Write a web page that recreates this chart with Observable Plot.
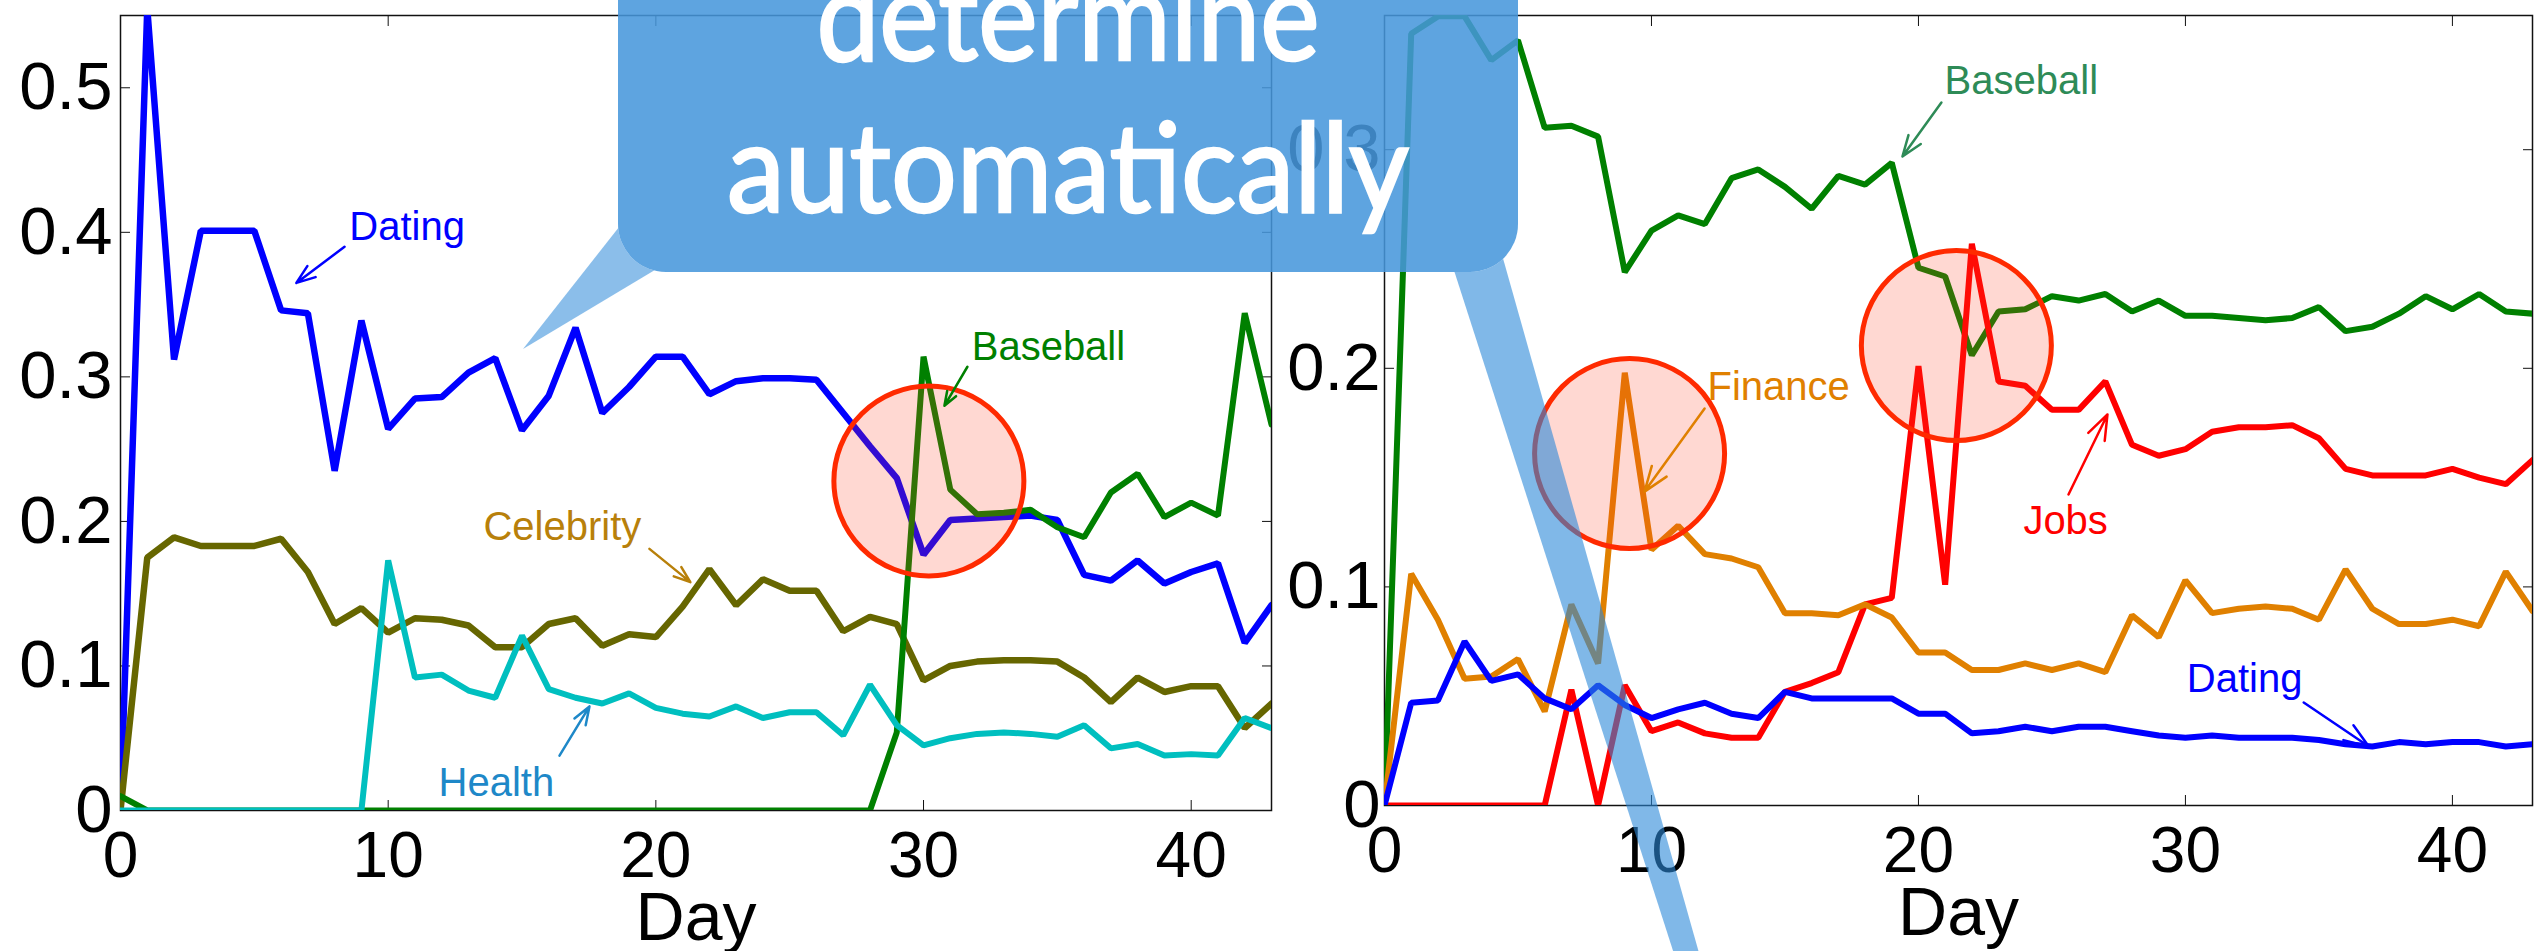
<!DOCTYPE html>
<html><head><meta charset="utf-8">
<script src="https://cdn.jsdelivr.net/npm/d3@7"></script>
<script src="https://cdn.jsdelivr.net/npm/@observablehq/plot@0.6"></script>
<style>
html,body{margin:0;padding:0;background:#fff;}
#wrap{position:relative;width:2546px;height:951px;overflow:hidden;}
#wrap svg{position:absolute;top:0;}
</style></head><body><div id="wrap"></div>
<script>
// ---------- data ----------
const days = [0,1,2,3,4,5,6,7,8,9,10,11,12,13,14,15,16,17,18,19,20,21,22,23,24,25,26,27,28,29,30,31,32,33,34,35,36,37,38,39,40,41,42,43];
const xTicks = [0,10,20,30,40];
const xLabels = ["0","10","20","30","40"];
const yTicksLeft = [0,0.1,0.2,0.3,0.4,0.5];
const yLabelsLeft = ["0","0.1","0.2","0.3","0.4","0.5"];
const yTicksRight = [0,0.1,0.2,0.3];
const yLabelsRight = ["0","0.1","0.2","0.3"];

const leftDating = [0,0.555,0.312,0.401,0.401,0.401,0.346,0.344,0.235,0.339,0.264,0.285,0.286,0.303,0.313,0.263,0.287,0.334,0.275,0.293,0.314,0.314,0.288,0.297,0.299,0.299,0.298,0.275,0.252,0.230,0.177,0.201,0.202,0.203,0.204,0.201,0.163,0.159,0.173,0.157,0.165,0.171,0.116,0.142];
const leftCelebrity = [0,0.175,0.189,0.183,0.183,0.183,0.188,0.165,0.129,0.140,0.123,0.133,0.132,0.128,0.113,0.113,0.129,0.133,0.114,0.122,0.120,0.141,0.167,0.142,0.160,0.152,0.152,0.124,0.134,0.129,0.090,0.100,0.103,0.104,0.104,0.103,0.092,0.075,0.092,0.082,0.086,0.086,0.057,0.074];
const leftBaseball = [0.01,0,0,0,0,0,0,0,0,0,0,0,0,0,0,0,0,0,0,0,0,0,0,0,0,0,0,0,0,0.054,0.314,0.222,0.205,0.206,0.208,0.196,0.189,0.220,0.233,0.203,0.213,0.204,0.344,0.267];
const leftHealth = [0,0,0,0,0,0,0,0,0,0,0.173,0.092,0.094,0.083,0.078,0.121,0.084,0.078,0.074,0.081,0.071,0.067,0.065,0.072,0.064,0.068,0.068,0.052,0.087,0.059,0.045,0.050,0.053,0.054,0.053,0.051,0.059,0.043,0.046,0.038,0.039,0.038,0.064,0.057];

const rightBaseball = [0,0.353,0.361,0.361,0.341,0.350,0.310,0.311,0.306,0.244,0.263,0.270,0.266,0.287,0.291,0.283,0.273,0.288,0.284,0.294,0.246,0.242,0.206,0.226,0.227,0.233,0.231,0.234,0.226,0.231,0.224,0.224,0.223,0.222,0.223,0.228,0.217,0.219,0.225,0.233,0.227,0.234,0.226,0.225];
const rightJobs = [0,0,0,0,0,0,0,0.053,0,0.055,0.034,0.038,0.033,0.031,0.031,0.052,0.056,0.061,0.092,0.095,0.201,0.101,0.257,0.194,0.192,0.181,0.181,0.194,0.165,0.160,0.163,0.171,0.173,0.173,0.174,0.168,0.154,0.151,0.151,0.151,0.154,0.150,0.147,0.158];
const rightFinance = [0,0.106,0.085,0.058,0.059,0.067,0.043,0.092,0.065,0.198,0.117,0.128,0.115,0.113,0.109,0.088,0.088,0.087,0.092,0.086,0.070,0.070,0.062,0.062,0.065,0.062,0.065,0.061,0.087,0.077,0.103,0.088,0.090,0.091,0.090,0.085,0.108,0.090,0.083,0.083,0.085,0.082,0.107,0.089];
const rightDating = [0,0.047,0.048,0.075,0.057,0.060,0.049,0.044,0.055,0.046,0.040,0.044,0.047,0.042,0.040,0.052,0.049,0.049,0.049,0.049,0.042,0.042,0.033,0.034,0.036,0.034,0.036,0.036,0.034,0.032,0.031,0.032,0.031,0.031,0.031,0.030,0.028,0.027,0.029,0.028,0.029,0.029,0.027,0.028];

// annotations (data units)
const leftNotes = [
  {label:"Dating",    tx:8.55,  ty:0.395,  x1:8.37,  y1:0.390, x2:6.57,  y2:0.365, color:"#0000FF"},
  {label:"Baseball",  tx:31.8,  ty:0.3116, x1:31.64, y1:0.307, x2:30.78, y2:0.280, color:"#008000"},
  {label:"Celebrity", tx:13.56, ty:0.187,  x1:19.76, y1:0.181, x2:21.29, y2:0.158, color:"#B8800A"},
  {label:"Health",    tx:11.88, ty:0.0097, x1:16.4,  y1:0.038, x2:17.52, y2:0.072, color:"#1E88C8"}
];
const rightNotes = [
  {label:"Baseball", tx:20.98, ty:0.3257, x1:20.86, y1:0.3216, x2:19.40, y2:0.2969, color:"#2E8B57"},
  {label:"Finance",  tx:12.10, ty:0.1853, x1:11.99, y1:0.1816, x2:9.74,  y2:0.1436, color:"#E08000"},
  {label:"Jobs",     tx:23.93, ty:0.124,  x1:25.62, y1:0.1423, x2:27.08, y2:0.1789, color:"#FF0000"},
  {label:"Dating",   tx:30.05, ty:0.0521, x1:34.43, y1:0.0471, x2:36.87, y2:0.027,  color:"#0000FF"}
];
const leftCircles = [{x:30.2, y:0.228}];
const rightCircles = [{x:9.18, y:0.161}, {x:21.42, y:0.2104}];

// ---------- drawing ----------
function rowsOf(values){ return values.map((v,i)=>({day: days[i], v})); }
const blank = () => "";

function panel(o){
  const fmtY = d => o.yLabels[o.yTicks.indexOf(d)];
  const fmtX = d => xLabels[xTicks.indexOf(d)];
  return Plot.plot({
    width: o.width, height: 951,
    marginLeft: o.mL, marginRight: o.mR, marginTop: 15, marginBottom: o.mB,
    style: {fontFamily: "'Liberation Sans', Arial, sans-serif", background: "transparent", overflow: "visible", color: "#000"},
    x: {domain: [0,43]},
    y: {domain: [0, o.yMax]},
    marks: [
      Plot.frame({stroke: "#111", strokeWidth: 1.5}),
      Plot.axisX({anchor: "top", ticks: xTicks, tickSize: -10, tickFormat: blank, label: null, stroke: "#111"}),
      Plot.axisY({anchor: "right", ticks: o.yTicks, tickSize: -10, tickFormat: blank, label: null, stroke: "#111"}),
      Plot.axisX({anchor: "bottom", ticks: xTicks, tickSize: 0, tickPadding: 21, fontSize: 64, tickFormat: fmtX, label: null}),
      Plot.axisY({anchor: "left", ticks: o.yTicks, tickSize: 0, tickPadding: o.yPad, fontSize: 67, tickFormat: fmtY, label: null}),
      Plot.axisX({anchor: "bottom", ticks: xTicks, tickSize: -10, tickFormat: blank, label: null, stroke: "#111"}),
      Plot.axisY({anchor: "left", ticks: o.yTicks, tickSize: -10, tickFormat: blank, label: null, stroke: "#111"}),
      Plot.text(["Day"], {frameAnchor: "bottom", dy: 129, fontSize: 68, lineAnchor: "bottom", text: d => d, fill: "#000"}),
      ...o.series.map(s => Plot.line(rowsOf(s.values), {x: "day", y: "v", stroke: s.color, strokeWidth: s.w, clip: true, strokeLinejoin: "miter"})),
      Plot.dot(o.circles, {x: "x", y: "y", r: 95, fill: "rgb(255,60,30)", fillOpacity: 0.2, stroke: "#FF2A00", strokeWidth: 5}),
      Plot.arrow(o.notes, {x1: "x1", y1: "y1", x2: "x2", y2: "y2", stroke: "color", strokeWidth: 2.5, headLength: 16, headAngle: 40}),
      Plot.text(o.notes, {x: "tx", y: "ty", text: "label", fill: "color", fontSize: 40, textAnchor: "start", lineAnchor: "bottom"})
    ]
  });
}

const wrap = document.getElementById("wrap");
const left = panel({
  width: 1275, mL: 120, mR: 4, mB: 141, yMax: 0.55, yPad: 8,
  yTicks: yTicksLeft, yLabels: yLabelsLeft,
  series: [
    {values: leftDating, color: "#0000FF", w: 6.5},
    {values: leftCelebrity, color: "#666600", w: 6.5},
    {values: leftBaseball, color: "#008000", w: 6},
    {values: leftHealth, color: "#00BFBF", w: 6}
  ],
  circles: leftCircles, notes: leftNotes
});
left.style.left = "0px";
wrap.appendChild(left);

const right = panel({
  width: 1271, mL: 109, mR: 14, mB: 146, yMax: 0.3614, yPad: 4,
  yTicks: yTicksRight, yLabels: yLabelsRight,
  series: [
    {values: rightBaseball, color: "#008000", w: 6},
    {values: rightJobs, color: "#FF0000", w: 6},
    {values: rightFinance, color: "#E08000", w: 6},
    {values: rightDating, color: "#0000FF", w: 6}
  ],
  circles: rightCircles, notes: rightNotes
});
right.style.left = "1275px";
wrap.appendChild(right);

// ---------- callout overlay ----------
const box = {x: 618, y: -100, w: 900, h: 372, rx: 48};
const tails = [
  {pts: [[523,349],[660,175],[705,240]], op: 0.55},
  {pts: [[1441,230],[1495,230],[1701,960],[1676,960]], op: 0.6}
];
const ov = d3.select(wrap).append("svg").attr("width", 2546).attr("height", 951).style("left", "0px");
const mask = ov.append("defs").append("mask").attr("id", "nobox").attr("maskUnits", "userSpaceOnUse")
  .attr("x", 0).attr("y", 0).attr("width", 2546).attr("height", 951);
mask.append("rect").attr("width", 2546).attr("height", 951).attr("fill", "white");
mask.append("rect").attr("x", box.x).attr("y", box.y).attr("width", box.w).attr("height", box.h).attr("rx", box.rx).attr("fill", "black");
ov.append("g").attr("mask", "url(#nobox)").selectAll("polygon").data(tails).join("polygon")
  .attr("points", d => d.pts.map(p => p.join(",")).join(" "))
  .attr("fill", "rgb(43,137,217)").attr("fill-opacity", d => d.op);
ov.append("rect").attr("x", box.x).attr("y", box.y).attr("width", box.w).attr("height", box.h).attr("rx", box.rx)
  .attr("fill", "rgb(70,150,219)").attr("fill-opacity", 0.87);
const calloutLines = [{t: "determine", y: 60, len: 503}, {t: "automatically", y: 212, len: 682}];
ov.selectAll("text.c").data(calloutLines).join("text").attr("class", "c")
  .attr("x", 1068).attr("y", d => d.y).attr("text-anchor", "middle")
  .attr("font-family", "Lato, 'Open Sans', sans-serif").attr("font-size", 124).attr("font-weight", "normal")
  .attr("stroke", "#fff").attr("stroke-width", 2.5)
  .attr("textLength", d => d.len).attr("lengthAdjust", "spacingAndGlyphs")
  .attr("fill", "#fff").text(d => d.t);
</script>
</body></html>
